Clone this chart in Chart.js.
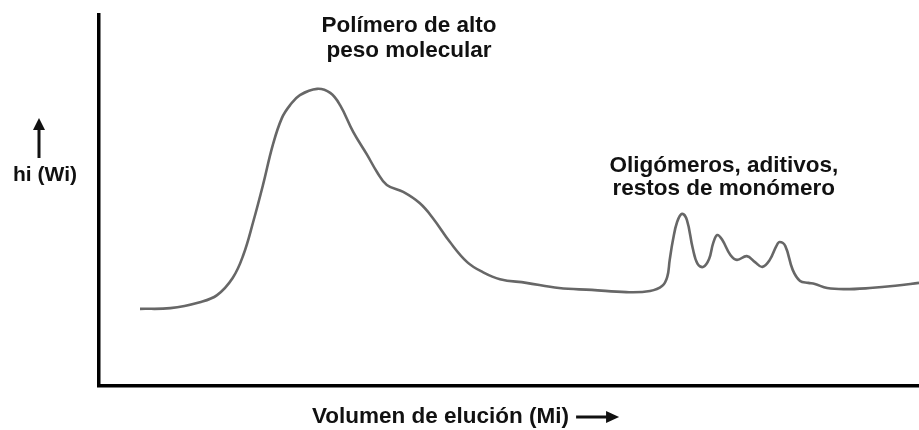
<!DOCTYPE html>
<html lang="es">
<head>
<meta charset="utf-8">
<title>Cromatograma de exclusión por tamaño</title>
<script src="https://cdn.jsdelivr.net/npm/chart.js@4.4.1/dist/chart.umd.min.js"></script>
<style>
  html, body { margin: 0; padding: 0; background: #ffffff; }
  #wrap { width: 919px; height: 430px; }
</style>
</head>
<body>
<div id="wrap"><canvas id="gpc" width="919" height="430"></canvas></div>
<script>
// Elution volume (arbitrary units, 0 = start of the axis, 100 = end)
const elutionVolume = [
  5.0, 8.7, 12.3, 14.4, 16.3, 17.6, 18.8, 20.0, 21.2, 22.3,
  23.3, 24.5, 26.6, 28.2, 29.4, 31.0, 32.7, 33.9, 35.1, 37.1,
  39.1, 40.7, 42.8, 44.9, 46.8, 48.9, 52.1, 56.1, 60.1, 64.3,
  67.2, 68.7, 69.3, 69.6, 70.0, 70.5, 71.1, 71.7, 72.4, 73.0,
  73.7, 74.4, 74.9, 75.4, 76.0, 77.0, 77.8, 79.0, 80.0, 80.9,
  81.8, 82.6, 83.0, 83.7, 84.6, 85.5, 86.5, 87.3, 88.8, 91.0,
  94.0, 97.1, 100.0
];

// Detector response hi (Wi), arbitrary units
const detectorSignal = [
  20.8, 21.0, 22.6, 24.5, 29.1, 35.3, 44.2, 54.2, 65.0, 72.2,
  75.7, 78.4, 80.1, 79.0, 75.7, 68.5, 62.3, 57.7, 54.2, 52.3,
  49.3, 45.3, 38.8, 33.4, 30.7, 28.8, 27.8, 26.4, 25.9, 25.3,
  25.6, 27.0, 29.4, 34.0, 39.4, 44.2, 46.4, 44.7, 37.2, 32.9,
  32.1, 34.2, 38.5, 40.7, 39.4, 35.3, 34.0, 35.0, 33.4, 32.1,
  34.0, 37.7, 38.8, 37.7, 31.3, 28.3, 27.8, 27.5, 26.4, 26.1,
  26.4, 27.0, 27.8
];

// Axis titles and peak annotations
const yAxisTitle = 'hi (Wi)';
const xAxisTitle = 'Volumen de elución (Mi)';
const polymerLabel = ['Polímero de alto', 'peso molecular'];
const oligomerLabel = ['Oligómeros, aditivos,', 'restos de monómero'];

const points = elutionVolume.map((v, i) => ({ x: v, y: detectorSignal[i] }));

const FONT = "'Liberation Sans', Arial, Helvetica, sans-serif";

// Draws the axis titles, their arrows and the peak labels
const labelsPlugin = {
  id: 'gpcLabels',
  afterDraw(chart) {
    const ctx = chart.ctx;
    const xs = chart.scales.x;
    const ys = chart.scales.y;
    ctx.save();
    ctx.fillStyle = '#111111';
    ctx.strokeStyle = '#111111';
    ctx.textBaseline = 'alphabetic';

    // peak labels, anchored in data units
    ctx.font = 'bold 22.5px ' + FONT;
    ctx.textAlign = 'center';
    const px1 = xs.getPixelForValue(37.8);
    ctx.fillText(polymerLabel[0], px1, ys.getPixelForValue(95.4));
    ctx.fillText(polymerLabel[1], px1, ys.getPixelForValue(88.8));
    const px2 = xs.getPixelForValue(76.2);
    ctx.fillText(oligomerLabel[0], px2, ys.getPixelForValue(57.7));
    ctx.fillText(oligomerLabel[1], px2, ys.getPixelForValue(51.5));

    // x axis title with arrow
    ctx.textAlign = 'left';
    const tx = 312, ty = 423;
    ctx.fillText(xAxisTitle, tx, ty);
    const tw = ctx.measureText(xAxisTitle).width;
    const ax0 = tx + tw + 7, ax1 = ax0 + 43, ay = 417;
    ctx.lineWidth = 3;
    ctx.beginPath();
    ctx.moveTo(ax0, ay);
    ctx.lineTo(ax1 - 10, ay);
    ctx.stroke();
    ctx.beginPath();
    ctx.moveTo(ax1, ay);
    ctx.lineTo(ax1 - 13, ay - 6);
    ctx.lineTo(ax1 - 13, ay + 6);
    ctx.closePath();
    ctx.fill();

    // y axis title with upward arrow
    ctx.font = 'bold 21px ' + FONT;
    ctx.fillText(yAxisTitle, 13, 181);
    const vx = 39, vTop = 118, vBot = 158;
    ctx.lineWidth = 3;
    ctx.beginPath();
    ctx.moveTo(vx, vBot);
    ctx.lineTo(vx, vTop + 10);
    ctx.stroke();
    ctx.beginPath();
    ctx.moveTo(vx, vTop);
    ctx.lineTo(vx - 6, vTop + 12);
    ctx.lineTo(vx + 6, vTop + 12);
    ctx.closePath();
    ctx.fill();

    ctx.restore();
  }
};

new Chart(document.getElementById('gpc'), {
  type: 'line',
  data: {
    datasets: [{
      data: points,
      borderColor: '#676767',
      borderWidth: 2.6,
      pointRadius: 0,
      fill: false,
      tension: 0.4,
      clip: false
    }]
  },
  options: {
    responsive: false,
    devicePixelRatio: 1,
    animation: false,
    layout: { padding: { left: 99, top: 15, right: 0, bottom: 44 } },
    plugins: {
      legend: { display: false },
      tooltip: { enabled: false }
    },
    scales: {
      x: {
        type: 'linear',
        min: 0,
        max: 100,
        grid: { display: false, drawTicks: false },
        border: { display: true, color: '#000000', width: 3.5 },
        ticks: { display: false }
      },
      y: {
        min: 0,
        max: 100,
        grid: { display: false, drawTicks: false },
        border: { display: true, color: '#000000', width: 3.5 },
        ticks: { display: false }
      }
    }
  },
  plugins: [labelsPlugin]
});
</script>
</body>
</html>
